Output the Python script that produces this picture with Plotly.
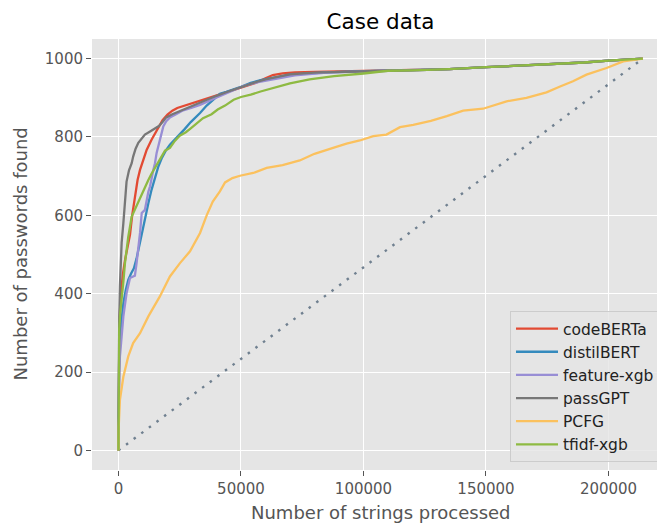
import plotly.graph_objects as go

# ---------------- data ----------------
CODEBERTA_X = [0, 100, 400, 1000, 1800, 2800, 3700, 4700, 5600, 6700, 7800, 8800, 10000, 11500,
               13500, 16200, 18000, 20000, 22000, 24000, 27000, 30000, 33000, 38000, 43000, 48000,
               52000, 56000, 60000, 63000, 67000, 72000, 80000, 90000, 100000, 110000, 120000,
               135000, 150000, 165000, 180000, 190000, 200000, 207000, 214000]
CODEBERTA_Y = [0, 220, 330, 400, 450, 490, 520, 550, 600, 650, 690, 716, 740, 767,
               793, 825, 843, 857, 867, 874, 880, 884, 891, 901, 912, 922,
               930, 938, 950, 958, 962, 965, 966, 967, 968, 969, 970,
               973, 978, 982, 986, 990, 995, 998, 1000]

DISTILBERT_X = [0, 100, 300, 700, 1300, 2000, 3000, 4000, 5200, 6300, 7400, 8100, 9500, 11000,
                12200, 13500, 14900, 16200, 17600, 19300, 21000, 22800, 24400, 27000, 29500, 31500,
                33300, 36000, 38700, 41400, 44000, 47000, 50000, 54000, 58000, 63000, 68000, 75000,
                85000, 100000, 110000, 120000, 135000, 150000, 165000, 180000, 190000, 200000,
                207000, 214000]
DISTILBERT_Y = [0, 180, 250, 300, 340, 376, 410, 435, 452, 465, 490, 512, 555, 595,
                631, 665, 699, 723, 745, 765, 780, 792, 801, 820, 838, 850,
                861, 880, 895, 910, 915, 921, 928, 938, 945, 951, 956, 961,
                965, 968, 969, 970, 973, 978, 982, 986, 990, 995,
                998, 1000]

FEATXGB_X = [0, 100, 300, 600, 1300, 2000, 3300, 4700, 6000, 6700, 7400, 8100, 8800, 9500, 10800,
             12200, 12900, 14200, 14900, 15600, 16200, 17200, 18300, 19500, 21000, 23500, 26400,
             30000, 33300, 38000, 42800, 47000, 51000, 57000, 64500, 72000, 85000, 100000, 110000,
             120000, 135000, 150000, 165000, 180000, 190000, 200000, 207000, 214000]
FEATXGB_Y = [0, 150, 200, 240, 300, 342, 401, 440, 444, 446, 478, 512, 555, 606, 614,
             660, 674, 715, 733, 760, 775, 800, 827, 840, 850, 858, 868,
             875, 882, 895, 908, 920, 930, 940, 948, 957, 964, 968, 969,
             970, 973, 978, 982, 986, 990, 995, 998, 1000]

PASSGPT_X = [0, 0, 300, 600, 1000, 1300, 2000, 2650, 3300, 4300, 5400, 6000, 7000, 8100, 9500,
             10800, 12900, 14500, 16500, 18000, 19500, 22000, 25000, 28000, 32000, 36000, 40000,
             44000, 48000, 52000, 56000, 60000, 64500, 70000, 80000, 90000, 100000, 110000,
             120000, 135000, 150000, 165000, 180000, 190000, 200000, 207000, 214000]
PASSGPT_Y = [0, 210, 330, 420, 490, 530, 580, 640, 686, 715, 733, 750, 770, 785, 797,
             806, 814, 820, 828, 838, 850, 858, 866, 874, 885, 895, 905,
             914, 923, 932, 940, 947, 953, 960, 964, 966, 968, 969,
             970, 973, 978, 982, 986, 990, 995, 998, 1000]

PCFG_X = [0, 100, 600, 2000, 4000, 6000, 8800, 12200, 16900, 21000, 25100, 29200, 33300, 36000,
          38500, 41400, 43500, 46500, 49600, 55000, 60500, 67000, 74000, 80000, 87600, 93100,
          98500, 104000, 109400, 114900, 120300, 127500, 134000, 140700, 148800, 153000, 158400,
          166500, 174700, 180000, 185500, 191000, 199200, 206000, 211000, 214000]
PCFG_Y = [0, 60, 129, 188, 240, 274, 299, 342, 393, 444, 478, 508, 555, 600,
          635, 661, 684, 695, 701, 708, 721, 728, 740, 757, 772, 783,
          791, 802, 806, 825, 831, 841, 853, 867, 872, 880, 891,
          900, 914, 928, 942, 959, 976, 993, 998, 1000]

TFIDF_X = [0, 0, 300, 700, 1300, 2000, 2650, 4000, 5400, 6700, 8100, 9500, 10800, 12200, 13500,
           14800, 16200, 17500, 19000, 21000, 23000, 25000, 27500, 29500, 32000, 34500, 38000,
           40500, 43500, 47000, 50000, 54000, 58000, 63000, 70000, 78000, 88000, 100000, 110000,
           120000, 135000, 150000, 165000, 180000, 190000, 200000, 207000, 214000]
TFIDF_Y = [0, 250, 310, 350, 384, 430, 478, 545, 597, 615, 638, 656, 674, 690, 706,
           720, 736, 750, 765, 772, 790, 803, 812, 822, 835, 848, 858,
           870, 880, 895, 902, 908, 916, 925, 937, 947, 955, 962, 969,
           970, 973, 978, 982, 986, 990, 995, 998, 1000]

DIAG_X = [0, 214000]
DIAG_Y = [0, 1000]

SERIES_NAMES = ["codeBERTa", "distilBERT", "feature-xgb", "passGPT", "PCFG", "tfidf-xgb"]
X_TICKS = [0, 50000, 100000, 150000, 200000]
X_TICK_LABELS = ["0", "50000", "100000", "150000", "200000"]
Y_TICKS = [0, 200, 400, 600, 800, 1000]
Y_TICK_LABELS = ["0", "200", "400", "600", "800", "1000"]

TITLE = "Case data"
X_LABEL = "Number of strings processed"
Y_LABEL = "Number of passwords found"

# ---------------- styles ----------------
COLORS = ["#E24A33", "#348ABD", "#988ED5", "#777777", "#FBC15E", "#8EBA42"]
FONT = "DejaVu Sans"
LW = 2.3
OFF = 8  # page body margin offset

W, H = 665 - OFF, 523 - OFF
PL, PR, PT, PB = 92 - OFF, 665 - OFF, 39 - OFF, 470 - OFF   # plot box in figure px
PW, PH = PR - PL, PB - PT

fig = go.Figure()

fig.add_trace(go.Scatter(x=DIAG_X, y=DIAG_Y, mode="lines", showlegend=False,
                         line=dict(color="#708090", width=2.4, dash="2.5px,7px"),
                         hoverinfo="skip"))

series = [(CODEBERTA_X, CODEBERTA_Y), (DISTILBERT_X, DISTILBERT_Y), (FEATXGB_X, FEATXGB_Y),
          (PASSGPT_X, PASSGPT_Y), (PCFG_X, PCFG_Y), (TFIDF_X, TFIDF_Y)]
for name, (xs, ys), col in zip(SERIES_NAMES, series, COLORS):
    fig.add_trace(go.Scatter(x=xs, y=ys, mode="lines", name=name, legendgroup=name,
                             line=dict(color=col, width=LW)))

axis_common = dict(showgrid=True, gridcolor="white", gridwidth=1.2, zeroline=False,
                   showline=False, ticks="outside", ticklen=5, tickwidth=1.2, automargin=False,
                   tickcolor="#555555", tickfont=dict(family=FONT, size=15, color="#555555"))

fig.update_layout(
    width=W, height=H,
    margin=dict(l=PL, r=W - PR, t=PT, b=H - PB, autoexpand=False),
    paper_bgcolor="white", plot_bgcolor="#E5E5E5",
    font=dict(family=FONT, size=15, color="#555555"),
    title=dict(text=TITLE, font=dict(family=FONT, size=21.5, color="black"),
               x=(380.5 - OFF) / W, xref="container", xanchor="center",
               y=1 - (21 - OFF) / H, yref="container", yanchor="middle"),
    xaxis=dict(range=[-10800, 223060], tickvals=X_TICKS, ticktext=X_TICK_LABELS, **axis_common),
    yaxis=dict(range=[-50, 1050], tickvals=Y_TICKS, ticktext=Y_TICK_LABELS, **axis_common),
    legend=dict(x=(660 - 92) / PW, y=(470 - 462) / PH, xanchor="right", yanchor="bottom",
                bgcolor="rgba(229,229,229,0.8)", bordercolor="#CCCCCC", borderwidth=1,
                font=dict(family=FONT, size=15.5, color="#222222"),
                itemwidth=42, tracegroupgap=8.5, traceorder="normal"),
    annotations=[
        dict(text=X_LABEL, xref="paper", yref="paper", x=(380.5 - 92) / PW, y=(470 - 512) / PH,
             xanchor="center", yanchor="middle", showarrow=False,
             font=dict(family=FONT, size=18, color="#555555")),
        dict(text=Y_LABEL, xref="paper", yref="paper", x=(20 - 92) / PW, y=0.5,
             xanchor="center", yanchor="middle", showarrow=False, textangle=-90,
             font=dict(family=FONT, size=18, color="#555555")),
    ],
)

fig.write_html("out.html")
